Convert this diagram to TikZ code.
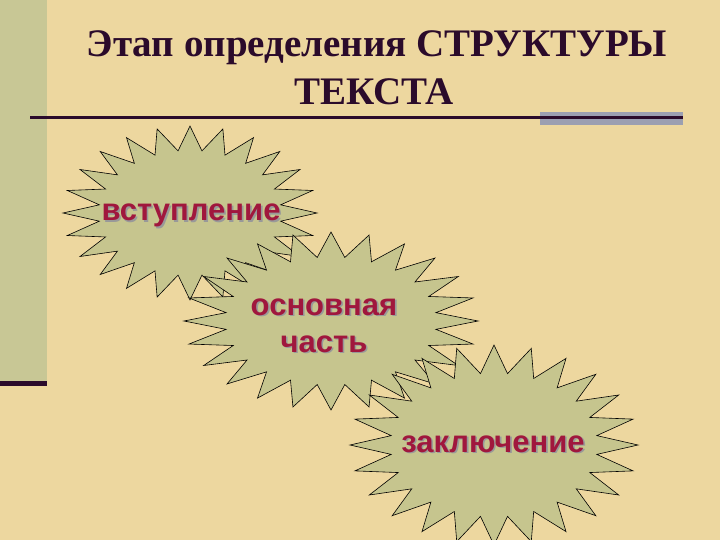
\documentclass[tikz,border=0pt]{standalone}
\usepackage{fontspec}
\setmainfont{Liberation Serif}
\newfontfamily\starfont{Liberation Sans}
\definecolor{paper}{HTML}{EDD79F}
\definecolor{sage}{HTML}{C8C795}
\definecolor{sealfill}{HTML}{C6C58E}
\definecolor{plum}{HTML}{2B0B2B}
\definecolor{crimson}{HTML}{A0173D}
\definecolor{slate}{HTML}{9C9FB1}
% 24-point seal: centre x, centre y, radius x, radius y
\newcommand{\sealstar}[4]{%
  \draw[seal] plot[samples at={0,...,47}]
    ({#1+(1-0.28*mod(\x,2))*#3*cos(7.5*\x)},{#2+(1-0.28*mod(\x,2))*#4*sin(7.5*\x)}) -- cycle;}
% word with a soft drop shadow
\newcommand{\shadowed}[1]{%
  \makebox[0pt][l]{\hspace{1.6pt}\raisebox{-1.6pt}{\textcolor{black!40}{#1}}}#1}

\begin{document}
\begin{tikzpicture}[x=1pt, y=-1pt]
            \tikzstyle{seal} = [draw=black, line width=0.6pt, fill=sealfill, line join=miter]
            \tikzstyle{title} = [text=plum, font=\bfseries\fontsize{39}{39}\selectfont, anchor=base, inner sep=0pt]
            \tikzstyle{word} = [text=crimson, font=\starfont\bfseries\fontsize{31}{31}\selectfont, anchor=base, inner sep=0pt]
            \fill[paper] (0, 0) rectangle (720, 540);
            \useasboundingbox (0, 0) rectangle (720, 540);
            % left band
            \fill[sage] (0, 0) rectangle (47, 381);
            \fill[plum] (0, 381) rectangle (47, 386);
            % title
            \node[title] (head1) at (377, 57) {Этап определения СТРУКТУРЫ};
            \node[title] (head2) at (374, 105) {ТЕКСТА};
            \fill[slate] (540, 112) rectangle (683, 125);
            \fill[plum] (30, 116.5) rectangle (683, 119.5);
            % seals
            \sealstar{190}{213}{127}{87}
            \node[word] (intro) at (191, 221) {\shadowed{вступление}};
            \sealstar{331}{321}{147}{89}
            \node[word] (main1) at (324, 315) {\shadowed{основная}};
            \node[word] (main2) at (324, 352) {\shadowed{часть}};
            \sealstar{494}{445}{144}{100}
            \node[word] (ending) at (493, 452) {\shadowed{заключение}};
        \end{tikzpicture}
\end{document}
